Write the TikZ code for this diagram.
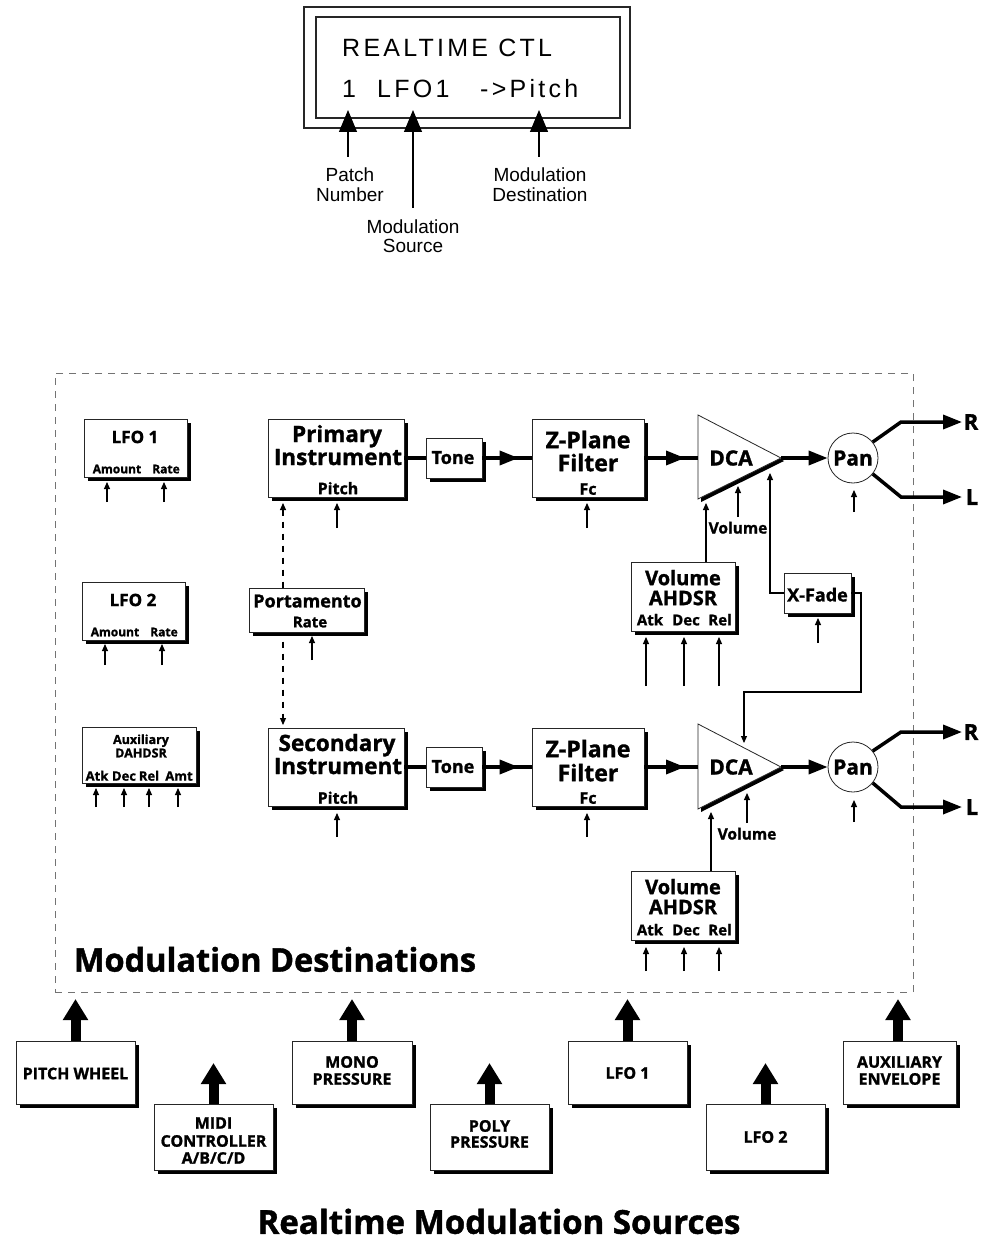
\documentclass[tikz,border=0pt]{standalone}
\usepackage{fontspec}
\setmainfont{Open Sans}[BoldFeatures={FakeBold=1.3}]
\newfontfamily\lcdfont[LetterSpace=13]{Liberation Sans}
\newfontfamily\lcdplain{Liberation Sans}
\usetikzlibrary{arrows.meta,shadows,decorations.markings}
\tikzset{
 box/.style={draw=black!85, line width=0.8pt, fill=white, inner sep=0pt,
   drop shadow={shadow xshift=3.5pt, shadow yshift=-3.5pt, opacity=1, fill=black}},
 sig/.style={line width=3.5pt},
 sigtip/.style={-{Triangle[length=19pt,width=14pt]}},
 midtip/.style={postaction={decorate}, decoration={markings,
   mark=at position -13pt with {\arrow{Triangle[length=19pt,width=14pt]}}}},
 parm/.style={line width=1.1pt, -{Triangle[length=7pt,width=6pt]}},
 bigup/.style={line width=10pt, -{Triangle[length=21pt,width=24pt]}},
 lcdarr/.style={line width=1.2pt, -{Triangle[length=22pt,width=18pt]}},
 portdash/.style={line width=1.1pt, dash pattern=on 6pt off 6pt,
   {Triangle[length=7pt,width=6pt]}-{Triangle[length=7pt,width=6pt]}},
 destframe/.style={draw=black!55, line width=0.9pt, dash pattern=on 7pt off 6pt, inner sep=0pt},
 lcdframe/.style={draw=black!85, line width=1.1pt, inner sep=0pt},
}
\newcommand\mytext[5]{\node[font=\bfseries\fontsize{#4}{#4}\selectfont, anchor=base, inner sep=0pt] (#1) at (#2,{#3+0.357*#4}) {#5};}
\newcommand\lcdtext[4]{\node[font=\lcdplain\fontsize{19}{19}\selectfont, anchor=base, inner sep=0pt] (#1) at (#2,{#3+0.358*19}) {#4};}
\begin{document}
\begin{tikzpicture}[x=1pt,y=-1pt]
\useasboundingbox (0,0) rectangle (990,1241);
\fill[white] (0,0) rectangle (990,1241);

% ---------- LCD ----------
\node[lcdframe, minimum width=326, minimum height=121] (lcdout) at (467,67.5) {};
\node[lcdframe, minimum width=304, minimum height=101] (lcdin) at (468,67.5) {};
\node[font=\lcdfont\fontsize{25}{25}\selectfont, anchor=base west, inner sep=0pt] (lcdA) at (342,57) {REALTIME CTL};
\node[font=\lcdfont\fontsize{25}{25}\selectfont, anchor=base west, inner sep=0pt] (lcdB) at (342,98) {1};
\node[font=\lcdfont\fontsize{25}{25}\selectfont, anchor=base west, inner sep=0pt] (lcdC) at (377,98) {LFO1};
\node[font=\lcdfont\fontsize{25}{25}\selectfont, anchor=base west, inner sep=0pt] (lcdD) at (480,98) {->Pitch};
\coordinate (pnA) at (348,157); \coordinate (pnB) at (348,110);
\coordinate (msA) at (413,208); \coordinate (msB) at (413,110);
\coordinate (mdA) at (539,157); \coordinate (mdB) at (539,110);
\draw[lcdarr] (pnA) -- (pnB);
\draw[lcdarr] (msA) -- (msB);
\draw[lcdarr] (mdA) -- (mdB);
\lcdtext{patchA}{350}{175}{Patch}
\lcdtext{patchB}{350}{195}{Number}
\lcdtext{srcA}{413}{227}{Modulation}
\lcdtext{srcB}{413}{246}{Source}
\lcdtext{dstA}{540}{175}{Modulation}
\lcdtext{dstB}{540}{195}{Destination}

% ---------- destinations frame ----------
\node[destframe, minimum width=858, minimum height=619] (dest) at (484,682.5) {};

% left column
\node[box, minimum width=103, minimum height=58] (lfoA) at (135.5,448) {};
\node[box, minimum width=103, minimum height=58] (lfoB) at (133.5,611) {};
\node[box, minimum width=114, minimum height=56] (auxd) at (139,755) {};
\mytext{tlfoA}{135}{437}{17}{LFO 1}
\mytext{tlfoAa}{117}{469}{12}{Amount}
\mytext{tlfoAr}{166}{469}{12}{Rate}
\mytext{tlfoB}{133}{600}{17}{LFO 2}
\mytext{tlfoBa}{115}{632}{12}{Amount}
\mytext{tlfoBr}{164}{632}{12}{Rate}
\mytext{tauxA}{141}{739.5}{12.5}{Auxiliary}
\mytext{tauxB}{141}{753}{12.5}{DAHDSR}
\mytext{tauxC}{97}{776}{13}{Atk}
\mytext{tauxD}{124}{776}{13}{Dec}
\mytext{tauxE}{149}{776}{13}{Rel}
\mytext{tauxF}{179}{776}{13}{Amt}

% portamento dashed link
\coordinate (pdA) at (283,503); \coordinate (pdB) at (283,725);
\draw[portdash] (pdA) -- (pdB);
\node[box, minimum width=115, minimum height=44] (port) at (306.5,610) {};
\mytext{tportA}{307.5}{601}{18}{Portamento}
\mytext{tportB}{310}{622}{15}{Rate}

% ---------- primary row ----------
\node[box, minimum width=136, minimum height=78] (prim) at (336,458) {};
\node[box, minimum width=56, minimum height=40] (toneA) at (454,458) {};
\node[box, minimum width=112, minimum height=78] (zpA) at (588,458) {};
\coordinate (dAa) at (698,415); \coordinate (dAb) at (781,458); \coordinate (dAc) at (698,499);
\coordinate (dAin) at (698,458);
\filldraw[fill=white, draw=black!85, line width=0.8pt,
  drop shadow={shadow xshift=3pt, shadow yshift=-3pt, opacity=1, fill=black}] (dAa) -- (dAb) -- (dAc) -- cycle;
\node[draw=black!85, line width=0.8pt, circle, minimum size=50, inner sep=0pt, fill=white] (panA) at (853,458) {};
\mytext{tprimA}{337}{434}{22.5}{Primary}
\mytext{tprimB}{338}{457}{22.5}{Instrument}
\mytext{tprimC}{338}{488.5}{16}{Pitch}
\mytext{ttoneA}{453}{457.5}{18}{Tone}
\mytext{tzpA}{588}{440}{23}{Z-Plane}
\mytext{tzpB}{588}{463}{23}{Filter}
\mytext{tzpC}{588}{489}{16}{Fc}
\mytext{tdcaA}{731}{458}{21}{DCA}
\mytext{tpanA}{853}{458}{21}{Pan}
\draw[sig] (prim.east) -- (toneA.west);
\draw[sig, midtip] (toneA.east) -- (zpA.west);
\draw[sig, midtip] (zpA.east) -- (dAin);
\draw[sig, sigtip] (dAb) -- (panA.west);
\coordinate (rA) at (962,422); \coordinate (lA) at (962,497);
\draw[sig, sigtip] (panA.39) -- (901,422) -- (rA);
\draw[sig, sigtip] (panA.-39) -- (901,497) -- (lA);
\mytext{tRA}{971}{422}{22}{R}
\mytext{tLA}{972}{497}{22}{L}
\mytext{tvolA}{738}{528}{15.5}{Volume}

% volume AHDSR 1 and X-Fade
\node[box, minimum width=104, minimum height=69] (volA) at (683,596.5) {};
\mytext{tvolAa}{683}{578}{20}{Volume}
\mytext{tvolAb}{683}{598}{20}{AHDSR}
\mytext{tvolAc}{650}{620}{15}{Atk}
\mytext{tvolAd}{686}{620}{15}{Dec}
\mytext{tvolAe}{720}{620}{15}{Rel}
\node[box, minimum width=67, minimum height=40] (xf) at (817.5,593) {};
\mytext{txf}{817.5}{595}{18}{X-Fade}

% ---------- secondary row ----------
\node[box, minimum width=136, minimum height=78] (sec) at (336,767) {};
\node[box, minimum width=56, minimum height=40] (toneB) at (454,767) {};
\node[box, minimum width=112, minimum height=78] (zpB) at (588,767) {};
\coordinate (dBa) at (698,724); \coordinate (dBb) at (781,767); \coordinate (dBc) at (698,809);
\coordinate (dBin) at (698,767);
\filldraw[fill=white, draw=black!85, line width=0.8pt,
  drop shadow={shadow xshift=3pt, shadow yshift=-3pt, opacity=1, fill=black}] (dBa) -- (dBb) -- (dBc) -- cycle;
\node[draw=black!85, line width=0.8pt, circle, minimum size=50, inner sep=0pt, fill=white] (panB) at (853,767) {};
\mytext{tsecA}{337}{743}{22.5}{Secondary}
\mytext{tsecB}{338}{766}{22.5}{Instrument}
\mytext{tsecC}{338}{798}{16}{Pitch}
\mytext{ttoneB}{453}{766.5}{18}{Tone}
\mytext{tzpBa}{588}{749}{23}{Z-Plane}
\mytext{tzpBb}{588}{773}{23}{Filter}
\mytext{tzpBc}{588}{798}{16}{Fc}
\mytext{tdcaB}{731}{767}{21}{DCA}
\mytext{tpanB}{853}{767}{21}{Pan}
\draw[sig] (sec.east) -- (toneB.west);
\draw[sig, midtip] (toneB.east) -- (zpB.west);
\draw[sig, midtip] (zpB.east) -- (dBin);
\draw[sig, sigtip] (dBb) -- (panB.west);
\coordinate (rB) at (962,732); \coordinate (lB) at (962,807);
\draw[sig, sigtip] (panB.39) -- (901,732) -- (rB);
\draw[sig, sigtip] (panB.-39) -- (901,807) -- (lB);
\mytext{tRB}{971}{732}{22}{R}
\mytext{tLB}{972}{807}{22}{L}
\mytext{tvolB}{747}{834}{15.5}{Volume}

\node[box, minimum width=104, minimum height=69] (volB) at (683,905.5) {};
\mytext{tvolBa}{683}{887}{20}{Volume}
\mytext{tvolBb}{683}{907}{20}{AHDSR}
\mytext{tvolBc}{650}{930}{15}{Atk}
\mytext{tvolBd}{686}{930}{15}{Dec}
\mytext{tvolBe}{720}{930}{15}{Rel}

% ---------- connectors to DCAs ----------
\coordinate (dAv) at (706,503);
\draw[parm] (volA.north -| dAv) -- (dAv);
\coordinate (dAx) at (770,473);
\draw[parm] (xf.west) -| (dAx);
\coordinate (dBx) at (744,743);
\draw[parm] (xf.east) -| (861,692) -| (dBx);
\coordinate (dBv) at (711,812);
\draw[parm] (volB.north -| dBv) -- (dBv);

% ---------- parameter input arrows ----------
\foreach \x/\ya/\yb in {107/502/482, 164/502/482, 105/665/644, 162/665/644,
  96/807/788, 124/807/788, 149/807/788, 178/807/788,
  337/528/503, 587/528/503, 312/660/636,
  646/686/637, 684/686/637, 719/686/637, 818/643/618, 854/512/490, 738/517/486,
  337/837/813, 587/837/813, 854/822/800, 747/823/793,
  646/971/947, 684/971/947, 719/971/947}
  {\draw[parm] (\x,\ya) -- (\x,\yb);}

\mytext{destlbl}{275}{960}{32.5}{Modulation Destinations}

% ---------- sources ----------
\node[box, minimum width=119, minimum height=63] (pw) at (75.5,1072.5) {};
\node[box, minimum width=119, minimum height=66] (midi) at (213.5,1137) {};
\node[box, minimum width=120, minimum height=63] (mono) at (352,1072.5) {};
\node[box, minimum width=119, minimum height=66] (poly) at (489.5,1137) {};
\node[box, minimum width=119, minimum height=63] (lfoS) at (627.5,1072.5) {};
\node[box, minimum width=119, minimum height=66] (lfoT) at (765.5,1137) {};
\node[box, minimum width=113, minimum height=63] (auxe) at (899.5,1072.5) {};
\coordinate (pwt) at (75.5,999);
\coordinate (midit) at (213.5,1063);
\coordinate (monot) at (352,999);
\coordinate (polyt) at (489.5,1063);
\coordinate (lfoSt) at (627.5,999);
\coordinate (lfoTt) at (765.5,1063);
\coordinate (auxet) at (898,999);
\draw[bigup] (pw.north) -- (pwt);
\draw[bigup] (midi.north) -- (midit);
\draw[bigup] (mono.north) -- (monot);
\draw[bigup] (poly.north) -- (polyt);
\draw[bigup] (lfoS.north) -- (lfoSt);
\draw[bigup] (lfoT.north) -- (lfoTt);
\draw[bigup] (auxe.north -| auxet) -- (auxet);
\mytext{tpw}{75.5}{1073.5}{16}{PITCH WHEEL}
\mytext{tmidiA}{213.5}{1123}{16}{MIDI}
\mytext{tmidiB}{213.5}{1141}{16}{CONTROLLER}
\mytext{tmidiC}{213.5}{1158}{16}{A/B/C/D}
\mytext{tmonoA}{352}{1062}{16}{MONO}
\mytext{tmonoB}{352}{1079}{16}{PRESSURE}
\mytext{tpolyA}{489.5}{1126}{16}{POLY}
\mytext{tpolyB}{489.5}{1142}{16}{PRESSURE}
\mytext{tlfoS}{627.5}{1073}{16}{LFO 1}
\mytext{tlfoT}{765.5}{1137}{16}{LFO 2}
\mytext{tauxeA}{899.5}{1062}{16}{AUXILIARY}
\mytext{tauxeB}{899.5}{1079}{16}{ENVELOPE}
\mytext{srclbl}{499}{1222}{33}{Realtime Modulation Sources}
\end{tikzpicture}
\end{document}
